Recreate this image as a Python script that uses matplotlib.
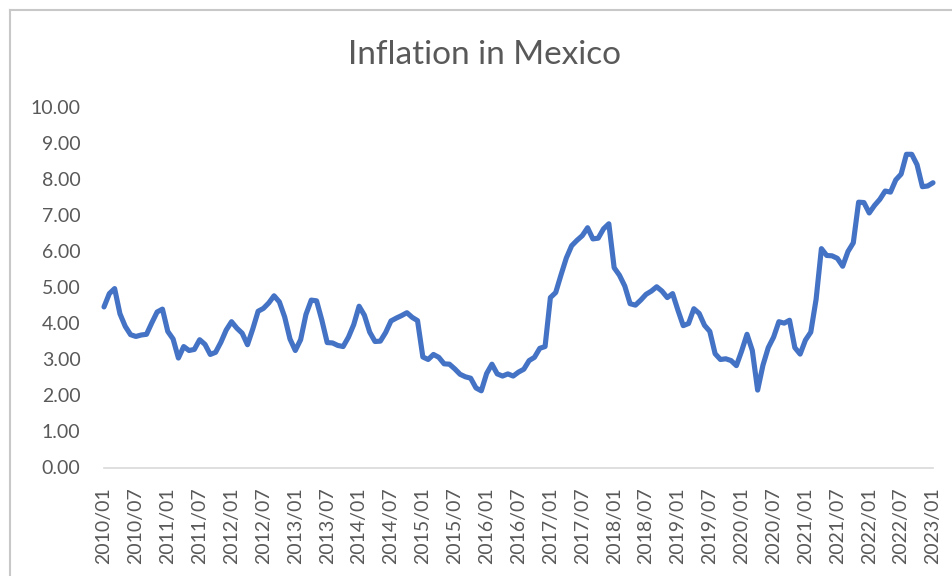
import numpy as np
import matplotlib.pyplot as plt
from matplotlib.lines import Line2D

plt.rcParams['font.family'] = ['Lato', 'DejaVu Sans']

# monthly year-over-year inflation, 2010/01 .. 2023/01
inflation = [
    4.46, 4.83, 4.97, 4.27, 3.92, 3.69, 3.64, 3.68, 3.70, 4.02, 4.32, 4.40,  # 2010
    3.78, 3.57, 3.04, 3.36, 3.25, 3.28, 3.55, 3.42, 3.14, 3.20, 3.48, 3.82,  # 2011
    4.05, 3.87, 3.73, 3.41, 3.85, 4.34, 4.42, 4.57, 4.77, 4.60, 4.18, 3.57,  # 2012
    3.25, 3.55, 4.25, 4.65, 4.63, 4.09, 3.47, 3.46, 3.39, 3.36, 3.62, 3.97,  # 2013
    4.48, 4.23, 3.76, 3.50, 3.51, 3.75, 4.07, 4.15, 4.22, 4.30, 4.17, 4.08,  # 2014
    3.07, 3.00, 3.14, 3.06, 2.88, 2.87, 2.74, 2.59, 2.52, 2.48, 2.21, 2.13,  # 2015
    2.61, 2.87, 2.60, 2.54, 2.60, 2.54, 2.65, 2.73, 2.97, 3.06, 3.31, 3.36,  # 2016
    4.72, 4.86, 5.35, 5.82, 6.16, 6.31, 6.44, 6.66, 6.35, 6.37, 6.63, 6.77,  # 2017
    5.55, 5.34, 5.04, 4.55, 4.51, 4.65, 4.81, 4.90, 5.02, 4.90, 4.72, 4.83,  # 2018
    4.37, 3.94, 4.00, 4.41, 4.28, 3.95, 3.78, 3.16, 3.00, 3.02, 2.97, 2.83,  # 2019
    3.24, 3.70, 3.25, 2.15, 2.84, 3.33, 3.62, 4.05, 4.01, 4.09, 3.33, 3.15,  # 2020
    3.54, 3.76, 4.67, 6.08, 5.89, 5.88, 5.81, 5.59, 6.00, 6.24, 7.37, 7.36,  # 2021
    7.07, 7.28, 7.45, 7.68, 7.65, 7.99, 8.15, 8.70, 8.70, 8.41, 7.80, 7.82,  # 2022
    7.91,                                                                    # 2023
]
years = list(range(2010, 2024))
months = [f"{y}/{m:02d}" for y in years for m in range(1, 13)][:len(inflation)]
tick_labels = months[::6]

W, H = 952, 576
fig = plt.figure(figsize=(W / 100, H / 100), dpi=100)

# plot area in pixels
left, right, top, bottom = 104, 933, 107.5, 467.5
ax = fig.add_axes([left / W, 1 - bottom / H, (right - left) / W, (bottom - top) / H])

x = np.arange(len(inflation))
ax.plot(x, inflation, color='#4472C4', lw=3.7, solid_joinstyle='round',
        solid_capstyle='round', clip_on=False, zorder=3)

ax.set_xlim(0, len(inflation) - 1)
ax.set_ylim(0, 10)
ax.set_yticks(np.arange(0, 11, 1))
ax.set_yticklabels([f"{v:.2f}" for v in range(11)])
ax.set_xticks(x[::6])
ax.set_xticklabels(tick_labels, rotation=90)

for s in ['top', 'right', 'left']:
    ax.spines[s].set_visible(False)
ax.spines['bottom'].set_color('#d9d9d9')
ax.spines['bottom'].set_linewidth(1.2)
ax.tick_params(axis='both', length=0, colors='#595959', labelsize=14)
ax.tick_params(axis='y', pad=17)
ax.tick_params(axis='x', pad=14)

fig.text(485 / W, 1 - 55 / H, 'Inflation in Mexico', ha='center', va='center',
         fontsize=24, color='#595959')

# chart frame along the top and left edges
fig.add_artist(Line2D([9.5 / W, 9.5 / W], [0, 1 - 9.5 / H], color='#c8c8c8', lw=1.5))
fig.add_artist(Line2D([9.5 / W, 1], [1 - 9.5 / H, 1 - 9.5 / H], color='#c8c8c8', lw=1.5))

fig.savefig('out.png', dpi=100, facecolor='white')
